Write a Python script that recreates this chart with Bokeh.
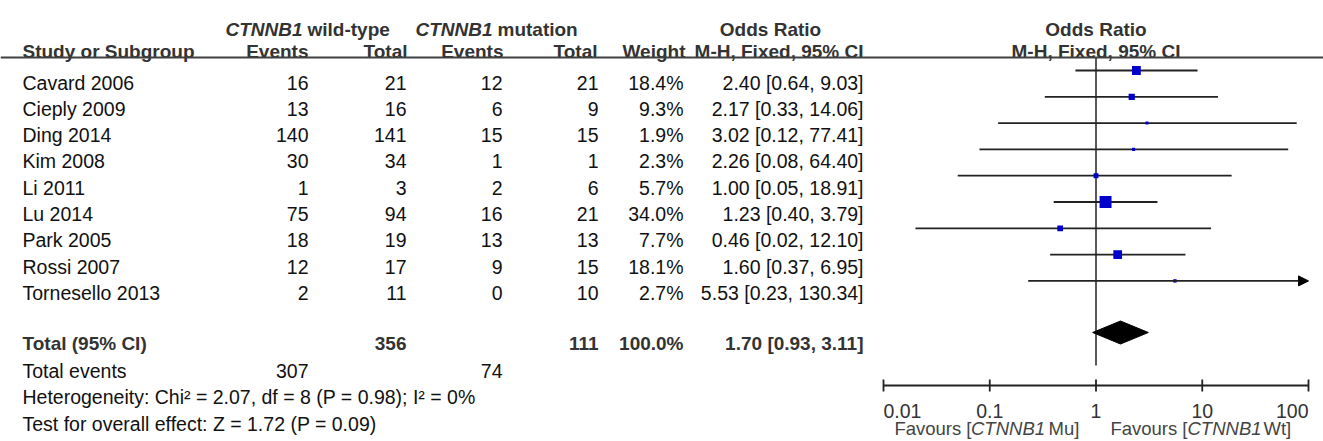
import math
from bokeh.plotting import figure
from bokeh.models import Range1d, LogScale, Span, Arrow, NormalHead
from bokeh.core.properties import value
from bokeh.embed import file_html
from bokeh.resources import INLINE

# ---------------- data ----------------
studies = ["Cavard 2006", "Cieply 2009", "Ding 2014", "Kim 2008", "Li 2011",
           "Lu 2014", "Park 2005", "Rossi 2007", "Tornesello 2013"]
wt_events = [16, 13, 140, 30, 1, 75, 18, 12, 2]
wt_total = [21, 16, 141, 34, 3, 94, 19, 17, 11]
mu_events = [12, 6, 15, 1, 2, 16, 13, 9, 0]
mu_total = [21, 9, 15, 1, 6, 21, 13, 15, 10]
weights = [18.4, 9.3, 1.9, 2.3, 5.7, 34.0, 7.7, 18.1, 2.7]
or_est = [2.40, 2.17, 3.02, 2.26, 1.00, 1.23, 0.46, 1.60, 5.53]
or_low = [0.64, 0.33, 0.12, 0.08, 0.05, 0.40, 0.02, 0.37, 0.23]
or_high = [9.03, 14.06, 77.41, 64.40, 18.91, 3.79, 12.10, 6.95, 130.34]

total_wt_total = 356
total_mu_total = 111
total_weight = 100.0
total_or = [1.70, 0.93, 3.11]
total_wt_events = 307
total_mu_events = 74
heterogeneity = "Heterogeneity: Chi\u00b2 = 2.07, df = 8 (P = 0.98); I\u00b2 = 0%"
overall = "Test for overall effect: Z = 1.72 (P = 0.09)"

axis_ticks = [0.01, 0.1, 1, 10, 100]
axis_labels = ["0.01", "0.1", "1", "10", "100"]

# ---------------- layout ----------------
W, H = 1323, 441
FONT = value("Liberation Sans")
FS = "19.5px"
FSB = "19px"
BODY = "#111111"
HEAD = "#333333"

ax_left_px, ax_right_px = 883, 1308
decade = (ax_right_px - ax_left_px) / (math.log10(axis_ticks[-1]) - math.log10(axis_ticks[0]))
log_lo = math.log10(axis_ticks[0]) - ax_left_px / decade
log_hi = math.log10(axis_ticks[-1]) + (W - ax_right_px) / decade

p = figure(width=W, height=H, x_range=Range1d(0, W), y_range=Range1d(H, 0),
           output_backend="svg", toolbar_location=None, min_border=0,
           x_axis_location=None, y_axis_location=None)
p.extra_x_ranges = {"or": Range1d(10 ** log_lo, 10 ** log_hi)}
p.extra_x_scales = {"or": LogScale()}
p.grid.visible = False
p.outline_line_color = None
p.background_fill_color = "white"
p.border_fill_color = "white"

first_line, step = 70.0, 26.3
row_line = [first_line + step * i for i in range(len(studies))]
row_base = [y + 12 for y in row_line]


def txt(x, y, t, align="left", bold=False, italic=False, color=BODY, size=None, rng="default"):
    style = "normal"
    if bold and italic:
        style = "bold italic"
    elif bold:
        style = "bold"
    elif italic:
        style = "italic"
    kw = {}
    if rng != "default":
        kw["x_range_name"] = rng
    p.text(x=x, y=y, text=t, text_font=FONT,
           text_font_size=size or (FSB if bold else FS),
           text_font_style=style, text_color=color, text_align=align,
           text_baseline="alphabetic", **kw)


# ---------------- headers ----------------
txt([302], [29], ["CTNNB1"], "right", bold=True, italic=True, color=HEAD)
txt([307], [29], ["wild-type"], "left", bold=True, color=HEAD)
txt([492], [29], ["CTNNB1"], "right", bold=True, italic=True, color=HEAD)
txt([497], [29], ["mutation"], "left", bold=True, color=HEAD)
txt([770], [29], ["Odds Ratio"], "center", bold=True, color=HEAD)
txt([1], [29], ["Odds Ratio"], "center", bold=True, color=HEAD, rng="or")

txt([22], [51], ["Study or Subgroup"], "left", bold=True, color=HEAD)
txt([308, 407, 503, 597, 685, 863], [51] * 6,
    ["Events", "Total", "Events", "Total", "Weight", "M-H, Fixed, 95% CI"],
    "right", bold=True, color=HEAD)
txt([1], [51], ["M-H, Fixed, 95% CI"], "center", bold=True, color=HEAD, rng="or")

p.add_layout(Span(location=57, dimension="width", line_color="#404040", line_width=2))

# ---------------- study rows ----------------
n = len(studies)
txt([22] * n, row_base, studies, "left")
txt([308] * n, row_base, [str(v) for v in wt_events], "right")
txt([406] * n, row_base, [str(v) for v in wt_total], "right")
txt([502] * n, row_base, [str(v) for v in mu_events], "right")
txt([598] * n, row_base, [str(v) for v in mu_total], "right")
txt([683] * n, row_base, [f"{w:.1f}%" for w in weights], "right")
txt([863] * n, row_base, [f"{e:.2f} [{l:.2f}, {h:.2f}]" for e, l, h in zip(or_est, or_low, or_high)], "right")

# ---------------- totals ----------------
tot_line = 332
txt([22], [343], ["Total (95% CI)"], "left", bold=True, color=HEAD)
txt([406, 598, 683, 863], [343] * 4,
    [str(total_wt_total), str(total_mu_total), f"{total_weight:.1f}%",
     f"{total_or[0]:.2f} [{total_or[1]:.2f}, {total_or[2]:.2f}]"], "right", bold=True, color=HEAD)
txt([22], [370], ["Total events"], "left")
txt([308, 502], [370, 370], [str(total_wt_events), str(total_mu_events)], "right")
txt([22], [396.5], [heterogeneity], "left")
txt([22], [423], [overall], "left")

# ---------------- forest plot ----------------
LC = "#222222"
# line of no effect
p.segment(x0=[1], x1=[1], y0=[57], y1=[365], line_color=LC, line_width=1.5, x_range_name="or")

clip_hi = axis_ticks[-1]
clip_lo = axis_ticks[0]
in_lo, in_hi, in_y, arr = [], [], [], []
for l, h, y in zip(or_low, or_high, row_line):
    if h > clip_hi or l < clip_lo:
        arr.append((max(l, clip_lo), min(h, clip_hi), y))
    else:
        in_lo.append(l)
        in_hi.append(h)
        in_y.append(y)
p.segment(x0=in_lo, x1=in_hi, y0=in_y, y1=in_y, line_color=LC, line_width=1.8, x_range_name="or")
for l, h, y in arr:
    p.add_layout(Arrow(end=NormalHead(size=10, fill_color="black", line_color="black", line_width=1),
                       x_start=l, y_start=y, x_end=h, y_end=y, line_color=LC, line_width=1.8,
                       x_range_name="or"))

sizes = [max(3.0, 2.05 * math.sqrt(w)) for w in weights]
p.scatter(x=or_est, y=row_line, size=sizes, marker="square", fill_color="#0000CC",
          line_color=None, x_range_name="or")

# pooled diamond
dh = 11.5
p.patch(x=[total_or[1], total_or[0], total_or[2], total_or[0]],
        y=[tot_line, tot_line - dh, tot_line, tot_line + dh],
        fill_color="black", line_color="black", line_width=1, x_range_name="or")

# axis
axis_y = 385
p.segment(x0=[axis_ticks[0]], x1=[axis_ticks[-1]], y0=[axis_y], y1=[axis_y],
          line_color=LC, line_width=1.8, x_range_name="or")
p.segment(x0=axis_ticks, x1=axis_ticks, y0=[axis_y - 6] * 5, y1=[axis_y + 6] * 5,
          line_color=LC, line_width=1.8, x_range_name="or")
txt([axis_ticks[0]], [410], [axis_labels[0]], "left", color=HEAD, rng="or")
txt(axis_ticks[1:-1], [410] * 3, axis_labels[1:-1], "center", color=HEAD, rng="or")
txt([axis_ticks[-1]], [410], [axis_labels[-1]], "right", color=HEAD, rng="or")

FAV = "#444444"
FF = "18.5px"
txt([971], [428], ["Favours ["], "right", color=FAV, size=FF)
txt([1007.5], [428], ["CTNNB1"], "center", italic=True, color=FAV, size=FF)
txt([1048], [428], ["Mu]"], "left", color=FAV, size=FF)
txt([1187], [428], ["Favours ["], "right", color=FAV, size=FF)
txt([1224], [428], ["CTNNB1"], "center", italic=True, color=FAV, size=FF)
txt([1263], [428], ["Wt]"], "left", color=FAV, size=FF)

open("out.html", "w").write(file_html(p, INLINE))
